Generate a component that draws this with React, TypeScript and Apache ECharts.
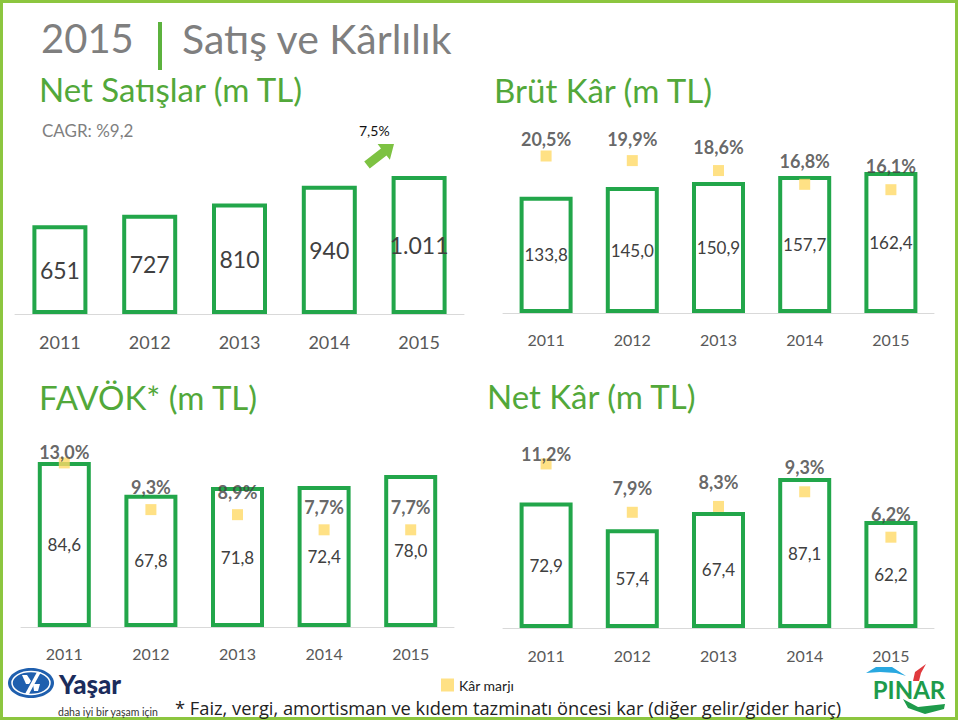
import React, { useEffect, useRef } from "react";
import * as echarts from "echarts";

// ---- data ----
const YEARS = ["2011", "2012", "2013", "2014", "2015"];
const NET_SALES = [651, 727, 810, 940, 1011];
const GROSS_PROFIT = [133.8, 145.0, 150.9, 157.7, 162.4];
const GROSS_MARGIN = [20.5, 19.9, 18.6, 16.8, 16.1];
const EBITDA = [84.6, 67.8, 71.8, 72.4, 78.0];
const EBITDA_MARGIN = [13.0, 9.3, 8.9, 7.7, 7.7];
const NET_PROFIT = [72.9, 57.4, 67.4, 87.1, 62.2];
const NET_MARGIN = [11.2, 7.9, 8.3, 9.3, 6.2];
const CAGR_TEXT = "CAGR: %9,2";
const GROWTH_TEXT = "7,5%";
const MARGIN_NAME = "Kâr marjı";

// label lift (px above marker centre) – styling only
const LIFT_GROSS = [17, 22, 24, 23, 24];
const LIFT_EBITDA = [11, 23, 23, 23, 23];
const LIFT_NET = [10, 24, 24, 25, 23];

const GREEN = "#22a64a";
const TITLE_GREEN = "#52a83a";
const MARKER = "#ffd966";
const FONT = "Lato";

const fmtInt = (n: number) => String(n).replace(/\B(?=(\d{3})+(?!\d))/g, ".");
const fmtDec = (n: number) => n.toFixed(1).replace(".", ",");
const fmtPct = (n: number) => n.toFixed(1).replace(".", ",") + "%";

type Panel = {
  left: number; width: number; top: number; height: number;
  barMax: number; pctMax: number; barWidth: number;
  valueFont: number; axisFont: number; axisMargin: number;
  bars: number[]; margins: number[] | null; lifts: number[] | null;
  fmt: (n: number) => string;
};

const PANELS: Panel[] = [
  { left: 15, width: 449, top: 140, height: 174, barMax: 1275, pctMax: 30, barWidth: 55,
    valueFont: 23, axisFont: 18, axisMargin: 19, bars: NET_SALES, margins: null, lifts: null, fmt: fmtInt },
  { left: 503, width: 431, top: 120, height: 193, barMax: 222.3, pctMax: 25.2, barWidth: 53,
    valueFont: 17, axisFont: 16, axisMargin: 18, bars: GROSS_PROFIT, margins: GROSS_MARGIN, lifts: LIFT_GROSS, fmt: fmtDec },
  { left: 21, width: 433, top: 420, height: 207, barMax: 106.2, pctMax: 16.4, barWidth: 53,
    valueFont: 17, axisFont: 16, axisMargin: 18, bars: EBITDA, margins: EBITDA_MARGIN, lifts: LIFT_EBITDA, fmt: fmtDec },
  { left: 503, width: 431, top: 420, height: 208, barMax: 120.8, pctMax: 14.2, barWidth: 53,
    valueFont: 17, axisFont: 16, axisMargin: 19, bars: NET_PROFIT, margins: NET_MARGIN, lifts: LIFT_NET, fmt: fmtDec },
];

function arrowPoints(x0: number, y0: number, x1: number, y1: number) {
  const dx = x1 - x0, dy = y1 - y0;
  const L = Math.hypot(dx, dy);
  const ux = dx / L, uy = dy / L, vx = -uy, vy = ux;
  const sw = 4.5, hl = 13, hw = 10;
  const local: [number, number][] = [
    [0, -sw], [L - hl, -sw], [L - hl, -hw], [L, 0], [L - hl, hw], [L - hl, sw], [0, sw],
  ];
  return local.map(([a, b]) => [x0 + a * ux + b * vx, y0 + a * uy + b * vy]);
}

function text(x: number, y: number, t: string, fontSize: number, fill: string, extra: any = {}) {
  return {
    type: "text", x, y, z: 10,
    style: { text: t, fontSize, fill, fontFamily: FONT, align: "left", verticalAlign: "middle", ...extra },
  };
}

export default function App() {
  const ref = useRef<HTMLDivElement>(null);
  useEffect(() => {
    if (!ref.current) return;
    const chart = echarts.init(ref.current, undefined, { renderer: "svg" });

    const grid: any[] = [];
    const xAxis: any[] = [];
    const yAxis: any[] = [];
    const series: any[] = [];

    PANELS.forEach((p, i) => {
      grid.push({ left: p.left, width: p.width, top: p.top, height: p.height, containLabel: false });
      xAxis.push({
        type: "category", gridIndex: i, data: YEARS,
        axisLine: { show: true, lineStyle: { color: "#d9d9d9", width: 1 } },
        axisTick: { show: false },
        axisLabel: { color: "#595959", fontSize: p.axisFont, margin: p.axisMargin, fontFamily: FONT },
        z: 1,
      });
      const barAxis = yAxis.length;
      yAxis.push({ type: "value", gridIndex: i, min: 0, max: p.barMax, show: false, splitLine: { show: false } });
      const pctAxis = yAxis.length;
      yAxis.push({ type: "value", gridIndex: i, min: 0, max: p.pctMax, show: false, splitLine: { show: false } });

      series.push({
        type: "bar", xAxisIndex: i, yAxisIndex: barAxis, data: p.bars, barWidth: p.barWidth, z: 2,
        itemStyle: { color: "#ffffff", borderColor: GREEN, borderWidth: 4 },
        label: {
          show: true, position: "inside", color: "#404040", fontSize: p.valueFont, fontFamily: FONT,
          formatter: (d: any) => p.fmt(d.value),
        },
      });
      if (p.margins) {
        const lifts = p.lifts || [];
        series.push({
          type: "scatter", name: MARGIN_NAME, xAxisIndex: i, yAxisIndex: pctAxis, z: 3,
          symbol: "rect", symbolSize: 11, itemStyle: { color: MARKER },
          data: p.margins.map((v, j) => ({ value: [YEARS[j], v], label: { offset: [0, -lifts[j]] } })),
          label: {
            show: true, position: "inside", color: "#404040", fontSize: 18, fontWeight: "bold", fontFamily: FONT,
            formatter: (d: any) => fmtPct(d.value[1]),
          },
        });
      }
    });

    const yasar = {
      type: "group", z: 10,
      children: [
        { type: "ellipse", shape: { cx: 31, cy: 683, rx: 23, ry: 15 }, style: { fill: "#1f5fae" } },
        { type: "ellipse", shape: { cx: 31, cy: 683, rx: 19, ry: 11.5 }, style: { fill: "none", stroke: "#ffffff", lineWidth: 1.5 } },
        { type: "polygon", shape: { points: [[22, 675], [27, 675], [31, 681], [29, 684], [26, 684]] }, style: { fill: "#fff" } },
        { type: "polygon", shape: { points: [[37, 672], [41, 672], [29, 694], [25, 694]] }, style: { fill: "#fff" } },
        { type: "polygon", shape: { points: [[33, 684], [40, 684], [38, 691], [34, 691]] }, style: { fill: "#fff" } },
      ],
    };

    const pinar = {
      type: "group", z: 10,
      children: [
        { type: "polygon", shape: { points: [[866, 673], [876, 667], [892, 667], [906, 676], [896, 673], [880, 672]] }, style: { fill: "#29a8e0" } },
        { type: "polygon", shape: { points: [[913, 681], [915, 672], [926, 664], [921, 673], [919, 681]] }, style: { fill: "#e03a3e" } },
        { type: "polygon", shape: { points: [[903, 699], [918, 707], [945, 704], [944, 709], [925, 714], [908, 708]] }, style: { fill: "#1e9b4b" } },
        { type: "text", x: 909, y: 689, style: { text: "PINAR", fontSize: 24, fontWeight: "bold", fill: "#1e9b4b", fontFamily: FONT, align: "center", verticalAlign: "middle" } },
      ],
    };

    const graphic: any[] = [
      { type: "rect", shape: { x: 1.5, y: 1.5, width: 955, height: 717 }, style: { fill: "none", stroke: "#8cc63f", lineWidth: 3 }, z: 0 },
      text(41, 38, "2015", 40, "#7f7f7f"),
      { type: "rect", shape: { x: 158, y: 22, width: 4, height: 48 }, style: { fill: "#5cb23e" }, z: 10 },
      text(182, 38, "Satış ve Kârlılık", 41, "#7f7f7f"),
      text(39, 89, "Net Satışlar (m TL)", 33, TITLE_GREEN),
      text(494, 90, "Brüt Kâr (m TL)", 33, TITLE_GREEN),
      text(39, 397, "FAVÖK* (m TL)", 33, TITLE_GREEN),
      text(487, 396, "Net Kâr (m TL)", 33, TITLE_GREEN),
      text(42, 130, CAGR_TEXT, 17, "#7f7f7f"),
      text(359, 130, GROWTH_TEXT, 14, "#111111"),
      { type: "polygon", z: 10, shape: { points: arrowPoints(367, 165, 394, 144) }, style: { fill: "#7dc242" } },
      yasar,
      text(59, 684, "Yaşar", 26, "#1b2c5c", { fontWeight: 900 }),
      text(58, 712, "daha iyi bir yaşam için", 10.5, "#333333"),
      pinar,
      text(175, 707, "* Faiz, vergi, amortisman ve kıdem tazminatı öncesi kar (diğer gelir/gider hariç)", 18.3, "#222222", { fontFamily: "Open Sans" }),
    ];

    chart.setOption({
      animation: false,
      backgroundColor: "#ffffff",
      textStyle: { fontFamily: FONT },
      grid, xAxis, yAxis, series, graphic,
      legend: {
        data: [MARGIN_NAME], left: 436, top: 673, icon: "rect", itemWidth: 13, itemHeight: 13, itemGap: 6,
        textStyle: { fontSize: 14, color: "#222222", fontFamily: FONT },
      },
    });
    return () => chart.dispose();
  }, []);

  return <div ref={ref} style={{ position: "absolute", left: 0, top: 0, width: 960, height: 722 }} />;
}
